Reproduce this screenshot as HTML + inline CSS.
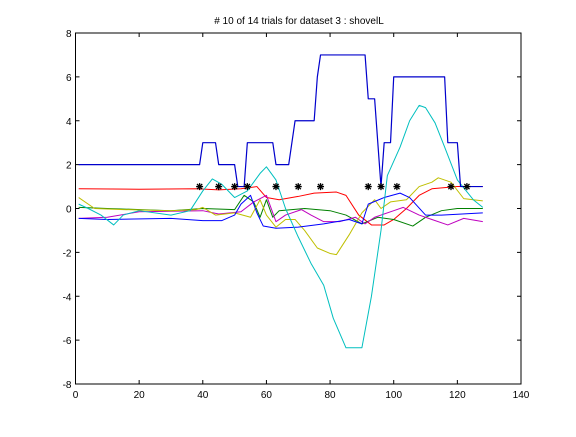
<!DOCTYPE html>
<html><head><meta charset="utf-8"><style>
html,body{margin:0;padding:0;background:#fff}
svg text{font-family:"Liberation Sans",sans-serif;font-size:10px;fill:#000}
</style></head><body>
<svg id="chart" width="576" height="432" xmlns="http://www.w3.org/2000/svg">
<rect width="576" height="432" fill="#fff"/>
<text x="299" y="24" text-anchor="middle" font-size="9"># 10 of 14 trials for dataset 3 : shovelL</text>
<g id="axes"></g>
<g id="series"></g>
<rect x="75.5" y="33" width="445.5" height="351" fill="none" stroke="#000" stroke-width="1"/>
</svg>
<script>
const xTicks=[0,20,40,60,80,100,120,140];
const yTicks=[-8,-6,-4,-2,0,2,4,6,8];
const stepX=[1,39,40,44,45,50,51,53,54,62,63,67,68,69,75,76,77,91,92,94,95,96,97,99,100,116,117,120,121,128];
const stepY=[2,2,3,3,2,2,1,1,3,3,2,2,3,4,4,6,7,7,5,5,3,1,3,3,6,6,3,3,1,1];
const redX=[1,20,38,45,52,57,60,64,70,75,82,85,89,93,97,100,104,108,112,120,128];
const redY=[0.9,0.88,0.9,0.85,0.9,1.0,0.5,0.4,0.55,0.7,0.75,0.6,-0.3,-0.75,-0.75,-0.5,0,0.6,0.9,1.0,1.0];
const cyanX=[1,4,8,12,15,20,30,36,40,43,46,50,54,58,60,63,66,70,74,78,81,85,90,93,96,98,102,105,108,110,113,116,120,125,128];
const cyanY=[0.2,0,-0.3,-0.75,-0.3,-0.1,-0.3,-0.1,0.8,1.35,1.1,0.5,0.8,1.6,1.9,1.3,0,-1.3,-2.5,-3.5,-5,-6.35,-6.35,-4,-1,1.5,2.8,4,4.7,4.6,3.9,2.8,1.3,0.4,0.05];
const yellowX=[1,6,15,30,38,40,44,50,55,58,60,63,66,69,72,76,80,82,86,90,94,96,99,104,108,112,114,118,122,128];
const yellowY=[0.5,0,-0.05,-0.1,-0.05,0.05,-0.3,-0.2,-0.4,0.4,-0.3,-0.85,-0.5,-0.5,-1,-1.8,-2.05,-2.1,-1.2,-0.2,0.4,0,0.3,0.4,1,1.2,1.4,1.2,0.45,0.35];
const greenX=[1,10,30,40,50,53,56,58,60,62,64,68,72,80,85,90,95,100,106,110,115,120,128];
const greenY=[0.05,0,-0.1,0,-0.05,0.6,0.3,-0.4,0.4,-0.4,-0.1,-0.05,0,-0.1,-0.3,-0.7,-0.4,-0.5,-0.8,-0.4,-0.1,0,0];
const magentaX=[1,10,20,40,45,52,56,60,63,66,71,74,78,83,88,91,94,100,103,108,112,117,122,128];
const magentaY=[-0.45,-0.4,-0.15,-0.1,-0.25,-0.15,0.3,0.6,-0.6,-0.3,-0.05,-0.3,-0.6,-0.6,-0.4,-0.7,-0.4,-0.1,0.05,-0.3,-0.5,-0.75,-0.45,-0.6];
const blueX=[1,10,30,40,46,50,52,55,57,59,63,70,78,86,90,92,97,102,105,110,115,128];
const blueY=[-0.45,-0.5,-0.45,-0.55,-0.55,-0.3,0.2,0.6,-0.2,-0.8,-0.9,-0.85,-0.7,-0.5,-0.7,0.2,0.5,0.7,0.5,-0.3,-0.3,-0.2];
const starX=[39,45,50,54,63,70,77,92,96,101,118,123];
const starY=[1,1,1,1,1,1,1,1,1,1,1,1];

const X0=75.5,X1=521,Y0=384,Y1=33;
const sx=v=>X0+(v-0)/(140-0)*(X1-X0);
const sy=v=>Y0-(v+8)/16*(Y0-Y1);
const NS="http://www.w3.org/2000/svg";
const axes=document.getElementById('axes');
const ser=document.getElementById('series');
function mk(tag,attrs,parent){const e=document.createElementNS(NS,tag);for(const k in attrs)e.setAttribute(k,attrs[k]);parent.appendChild(e);return e;}
xTicks.forEach(t=>{
  const x=sx(t);
  const a=mk('line',{x1:x,x2:x,y1:Y0,y2:Y0-4,stroke:'#000'},axes);
  
  
  const b=mk('line',{x1:x,x2:x,y1:Y1,y2:Y1+4,stroke:'#000'},axes);
  
  
  const l=mk('text',{x:x,y:Y0+14,'text-anchor':'middle'},axes);
  l.textContent=t;
  
  
});
yTicks.forEach(t=>{
  const y=sy(t);
  const a=mk('line',{x1:X0,x2:X0+4,y1:y,y2:y,stroke:'#000'},axes);
  
  
  const b=mk('line',{x1:X1,x2:X1-4,y1:y,y2:y,stroke:'#000'},axes);
  
  
  const l=mk('text',{x:X0-4,y:y+4,'text-anchor':'end'},axes);
  l.textContent=t;
  
  
});
function line(xs,ys,color,w,name){
  const pts=xs.map((v,i)=>sx(v).toFixed(2)+','+sy(ys[i]).toFixed(2)).join(' ');
  const p=mk('polyline',{points:pts,fill:'none',stroke:color,'stroke-width':w,'stroke-linejoin':'round'},ser);
  
  
}
line(redX,redY,'#ff0000',1,'red-series');
line(greenX,greenY,'#008000',1,'green-series');
line(magentaX,magentaY,'#bf00bf',1,'magenta-series');
line(yellowX,yellowY,'#bfbf00',1,'yellow-series');
line(blueX,blueY,'#0000ff',1,'blue-series');
line(cyanX,cyanY,'#00bfbf',1,'cyan-series');
line(stepX,stepY,'#0000cc',1.2,'step-series');
starX.forEach((v,i)=>{
  const cx=sx(v),cy=sy(starY[i]),r=3.5;
  const d=`M${cx-r},${cy}H${cx+r}M${cx},${cy-r}V${cy+r}M${cx-2.6},${cy-2.6}L${cx+2.6},${cy+2.6}M${cx-2.6},${cy+2.6}L${cx+2.6},${cy-2.6}`;
  const s=mk('path',{d:d,stroke:'#000','stroke-width':1.3,fill:'none'},ser);
  
  
});
</script>
</body></html>
